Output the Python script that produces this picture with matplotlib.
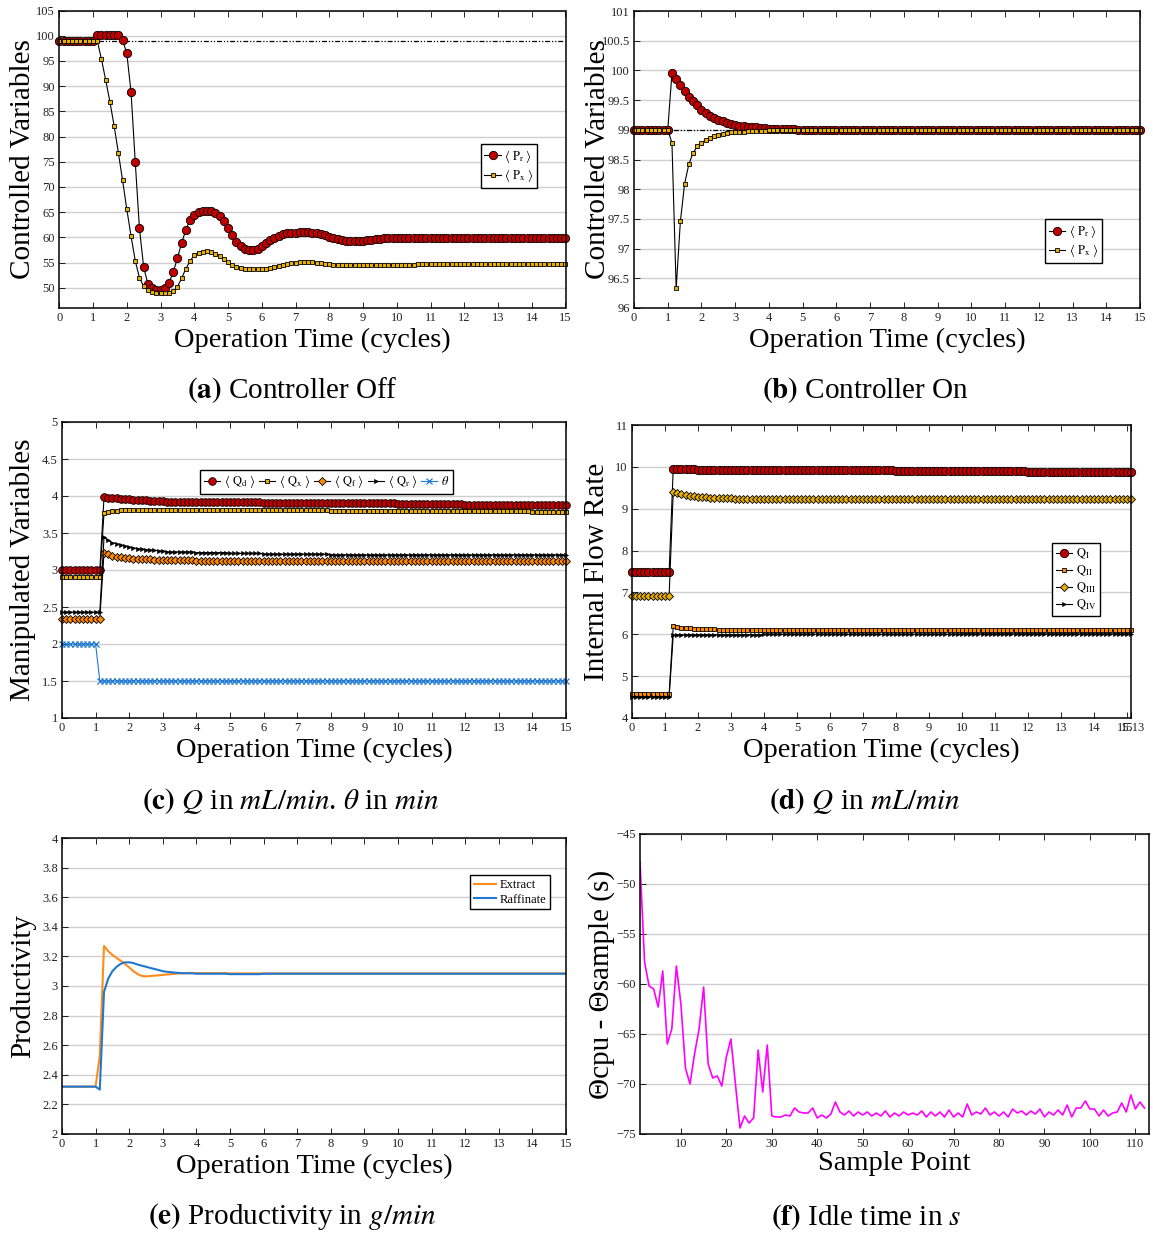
import numpy as np
import matplotlib
matplotlib.use("Agg")
import matplotlib.pyplot as plt

plt.rcParams['font.family'] = ['Liberation Serif', 'DejaVu Serif']
plt.rcParams['mathtext.fontset'] = 'stix'

# --- donnees -------------------------------------------------------------
# temps en cycles, 8 echantillons par cycle (0 .. 15.125)
t = np.arange(122) / 8

# (a) controleur eteint
pr_off = ([99.0] * 9 + [100.1] * 6 +
          [99.1, 96.5, 88.9, 75.0, 61.8, 54.1, 50.8, 49.9, 49.6, 49.5, 49.9, 51.0,
           53.1, 55.9, 58.9, 61.5, 63.5, 64.5, 65.0, 65.2, 65.2, 65.2, 64.8, 64.2,
           63.3, 61.8, 60.4, 59.1, 58.3, 57.7, 57.5, 57.5, 57.8, 58.3, 58.9, 59.4,
           59.9, 60.3, 60.6, 60.8, 60.9, 60.9, 61.0, 61.0, 61.0, 60.9, 60.8, 60.6,
           60.4, 60.1, 59.8, 59.6, 59.4, 59.3, 59.2, 59.2, 59.2, 59.3, 59.4, 59.5,
           59.6, 59.7, 59.8, 59.8, 59.9, 59.9] +
          [59.9] * 8 + [59.8] * 33)
px_off = ([99.0] * 10 +
          [95.3, 91.2, 86.9, 82.1, 76.8, 71.3, 65.6, 60.3, 55.4, 52.0, 50.3, 49.5,
           49.2, 49.0, 48.9, 48.9, 49.0, 49.3, 50.2, 51.9, 53.8, 55.3, 56.5, 57.0,
           57.2, 57.3, 57.1, 56.8, 56.3, 55.7, 55.1, 54.6, 54.2, 53.9, 53.8, 53.7,
           53.7, 53.7, 53.7, 53.8, 53.9, 54.1, 54.3, 54.5, 54.7, 54.9, 55.0, 55.1,
           55.1, 55.1, 55.1, 55.0, 54.9, 54.8, 54.7, 54.6] +
          [54.5] * 11 + [54.6] * 8 + [54.7] * 37)

# (b) controleur allume
pr_on = ([99.0] * 9 +
         [99.95, 99.86, 99.75, 99.65, 99.56, 99.48, 99.41, 99.34, 99.29, 99.24,
          99.20, 99.17, 99.14, 99.12, 99.10, 99.08, 99.07, 99.06, 99.05, 99.04,
          99.04, 99.03, 99.03, 99.02, 99.02, 99.02, 99.01, 99.01, 99.01, 99.01] +
         [99.0] * 83)
px_on = ([99.0] * 9 +
         [98.78, 96.33, 97.46, 98.09, 98.42, 98.61, 98.72, 98.78, 98.83, 98.87,
          98.89, 98.92, 98.93, 98.94, 98.955, 98.96, 98.965, 98.97, 98.975, 98.98,
          98.98, 98.985, 98.985, 98.99, 98.99, 98.99, 98.995, 98.995, 98.995, 98.995] +
         [99.0] * 83)
consigne = 99.0

# (c) variables manipulees
qd = ([3.0] * 10 +
      [3.98, 3.975, 3.97, 3.97, 3.965, 3.96, 3.955, 3.95, 3.945, 3.94, 3.94,
       3.935, 3.935, 3.93, 3.93] +
      [3.925] * 7 + [3.92] * 8 + [3.915] * 8 + [3.91] * 16 + [3.905] * 16 +
      [3.895] * 16 + [3.885] * 16 + [3.875] * 10)
qx = ([2.9] * 10 + [3.77, 3.785, 3.795, 3.80, 3.805, 3.808] +
      [3.812] * 24 + [3.808] * 24 + [3.803] * 24 + [3.797] * 24 + [3.79] * 10)
qf = ([2.34] * 10 +
      [3.23, 3.21, 3.19, 3.18, 3.17, 3.165, 3.16, 3.155, 3.15, 3.147, 3.145,
       3.142, 3.14, 3.138, 3.135] +
      [3.132] * 7 + [3.128] * 8 + [3.122] * 82)
qr = ([2.43] * 10 +
      [3.44, 3.40, 3.37, 3.355, 3.34, 3.325, 3.31, 3.30, 3.29, 3.283, 3.276,
       3.27, 3.265, 3.26, 3.255] +
      [3.245] * 7 + [3.235] * 8 + [3.225] * 8 + [3.215] * 16 + [3.205] * 58)
theta = [2.0] * 9 + [1.5] * 113

# (d) debits internes
q1 = ([7.48] * 10 + [9.96, 9.955, 9.95, 9.95, 9.945, 9.94] +
      [9.935] * 8 + [9.93] * 8 + [9.925] * 16 + [9.915] * 16 + [9.905] * 16 +
      [9.895] * 16 + [9.885] * 16 + [9.875] * 10)
q2 = ([4.57] * 10 +
      [6.19, 6.175, 6.16, 6.15, 6.14, 6.135, 6.13, 6.125, 6.12, 6.118, 6.115] +
      [6.11] * 11 + [6.10] * 8 + [6.095] * 82)
q3 = ([6.92] * 10 +
      [9.41, 9.38, 9.35, 9.33, 9.31, 9.30, 9.29, 9.28, 9.27, 9.265, 9.26,
       9.255, 9.25, 9.248, 9.245] +
      [9.24] * 15 + [9.232] * 82)
q4 = [4.50] * 10 + [5.98] + [5.99] * 21 + [6.00] * 48 + [6.01] * 42

# (e) productivite
extract = ([2.32] * 9 +
           [2.53, 3.27, 3.235, 3.21, 3.19, 3.17, 3.15, 3.125, 3.10, 3.08, 3.068,
            3.065, 3.067, 3.07, 3.072, 3.075, 3.078, 3.08, 3.083, 3.085] +
           [3.087] * 11 + [3.085] * 82)
raffinate = ([2.32] * 9 +
             [2.30, 2.96, 3.05, 3.10, 3.13, 3.15, 3.16, 3.16, 3.155, 3.145, 3.137,
              3.13, 3.122, 3.115, 3.108, 3.10, 3.096, 3.093, 3.09, 3.088] +
             [3.086] * 3 + [3.083] * 8 + [3.08] * 8 + [3.083] * 74)

# (f) temps d'inactivite
echantillons = np.arange(1, 113)
idle = [-47.8, -57.8, -60.2, -60.5, -62.3, -58.7, -66.0, -64.5, -58.2, -62.0,
        -68.4, -70.0, -67.0, -64.5, -60.3, -68.0, -69.4, -69.2, -70.2, -67.3,
        -65.5, -70.0, -74.4, -73.2, -73.9, -73.4, -66.6, -70.8, -66.1, -73.2,
        -73.3, -73.3, -73.1, -73.2, -72.4, -72.8, -72.9, -72.9, -72.4, -73.4,
        -73.1, -73.4, -73.0, -71.8, -72.8, -73.1, -72.7, -73.2, -72.8, -73.1,
        -72.8, -73.2, -72.9, -73.2, -72.7, -73.3, -72.9, -73.2, -72.8, -73.1,
        -72.9, -73.1, -72.7, -73.3, -72.8, -73.2, -72.8, -73.3, -72.6, -73.3,
        -72.9, -73.3, -72.0, -73.1, -72.8, -73.0, -72.4, -73.1, -72.8, -73.2,
        -72.8, -73.3, -72.5, -72.9, -72.7, -73.1, -72.7, -73.0, -72.5, -73.3,
        -72.8, -73.1, -72.6, -73.1, -72.1, -73.3, -72.4, -72.4, -71.7, -72.5,
        -72.5, -73.2, -72.6, -73.2, -72.9, -72.8, -71.9, -72.8, -71.1, -72.5,
        -71.8, -72.4]

# --- couleurs ---------------------------------------------------------------
ROUGE = '#c00000'
OR = '#e8b000'
ORANGE = '#ff8a00'
BLEU = '#1f78d1'

W, H = 1153, 1236
fig = plt.figure(figsize=(W / 100, H / 100), dpi=100)


def axe(x0, x1, y0, y1):
    # position en pixels -> fraction de figure
    return fig.add_axes([x0 / W, 1 - y1 / H, (x1 - x0) / W, (y1 - y0) / H])


def mise_en_forme(ax, ylabel, xlabel, ylab_x, xlab_y=-0.068):
    ax.grid(axis='y', color='#cfcfcf', lw=1.0)
    ax.set_axisbelow(True)
    ax.tick_params(direction='in', top=True, right=False, length=4, width=0.6,
                   labelsize=9, labelcolor='#222222', pad=3)
    for s in ax.spines.values():
        s.set_linewidth(1.1)
    ax.set_ylabel(ylabel, fontsize=21)
    ax.yaxis.set_label_coords(ylab_x, 0.5)
    ax.set_xlabel(xlabel, fontsize=20.5)
    ax.xaxis.set_label_coords(0.5, xlab_y)
    ax.xaxis.label.set_va('top')


def fmt(vals):
    return ['%g' % v for v in vals]


ligne = dict(color='black', lw=0.8, clip_on=False)
leg = dict(fontsize=9, fancybox=False, edgecolor='black', framealpha=1,
           handlelength=1.3, handletextpad=0.3, borderpad=0.3, labelspacing=0.2)

# (a)
ax = axe(59.3, 565.5, 10.5, 308)
ax.plot(t[:-1], [consigne] * 121, color='black', lw=0.9, dashes=(4, 1.5, 1, 1.5, 1, 1.5))
ax.plot(t[:-1], pr_off[:-1], marker='o', ms=6, mfc=ROUGE, mec='black', mew=0.6,
        label=r'$\langle\ \mathrm{P_r}\ \rangle$', **ligne)
ax.plot(t[:-1], px_off[:-1], marker='s', ms=3.5, mfc=OR, mec='black', mew=0.6,
        label=r'$\langle\ \mathrm{P_x}\ \rangle$', **ligne)
ax.set_xlim(0, 15)
ax.set_ylim(46, 105)
ax.set_xticks(range(16))
ax.set_yticks(range(50, 106, 5))
ax.legend(loc='upper left', bbox_to_anchor=(0.82, 0.573), **leg)
mise_en_forme(ax, 'Controlled Variables', 'Operation Time (cycles)', -0.046)

# (b)
ax = axe(634, 1140, 11, 308)
ax.plot(t[:-1], [consigne] * 121, color='black', lw=0.9, dashes=(4, 1.5, 1, 1.5, 1, 1.5))
ax.plot(t[:-1], pr_on[:-1], marker='o', ms=6, mfc=ROUGE, mec='black', mew=0.6,
        label=r'$\langle\ \mathrm{P_r}\ \rangle$', **ligne)
ax.plot(t[:-1], px_on[:-1], marker='s', ms=3.5, mfc=OR, mec='black', mew=0.6,
        label=r'$\langle\ \mathrm{P_x}\ \rangle$', **ligne)
ax.set_xlim(0, 15)
ax.set_ylim(96, 101)
ax.set_xticks(range(16))
yt = np.arange(96, 101.01, 0.5)
ax.set_yticks(yt)
ax.set_yticklabels(fmt(yt))
ax.legend(loc='upper left', bbox_to_anchor=(0.80, 0.32), **leg)
mise_en_forme(ax, 'Controlled Variables', 'Operation Time (cycles)', -0.045)

# (c)
ax = axe(62, 566, 422, 718)
ax.plot(t[:-1], qd[:-1], marker='o', ms=5.5, mfc=ROUGE, mec='black', mew=0.6,
        label=r'$\langle\ \mathrm{Q_d}\ \rangle$', **ligne)
ax.plot(t[:-1], qx[:-1], marker='s', ms=3.5, mfc=OR, mec='black', mew=0.6,
        label=r'$\langle\ \mathrm{Q_x}\ \rangle$', **ligne)
ax.plot(t[:-1], qf[:-1], marker='D', ms=4.5, mfc=ORANGE, mec='black', mew=0.6,
        label=r'$\langle\ \mathrm{Q_f}\ \rangle$', **ligne)
ax.plot(t[:-1], qr[:-1], marker='>', ms=3, mfc='black', mec='black', mew=0.4,
        label=r'$\langle\ \mathrm{Q_r}\ \rangle$', **ligne)
ax.plot(t[:-1], theta[:-1], marker='x', ms=4, color=BLEU, lw=0.8, mew=0.9,
        clip_on=False, label=r'$\theta$')
ax.set_xlim(0, 15)
ax.set_ylim(1, 5)
ax.set_xticks(range(16))
yt = np.arange(1, 5.01, 0.5)
ax.set_yticks(yt)
ax.set_yticklabels(fmt(yt))
ax.legend(loc='upper left', bbox_to_anchor=(0.262, 0.86), ncol=5,
          columnspacing=0.3, **leg)
mise_en_forme(ax, 'Manipulated Variables', 'Operation Time (cycles)', -0.052)

# (d)
ax = axe(632, 1131, 425, 718)
ax.plot(t, q1, marker='o', ms=6, mfc=ROUGE, mec='black', mew=0.6,
        label=r'$\mathrm{Q_{I}}$', **ligne)
ax.plot(t, q2, marker='s', ms=3.5, mfc=ORANGE, mec='black', mew=0.6,
        label=r'$\mathrm{Q_{II}}$', **ligne)
ax.plot(t, q3, marker='D', ms=4.5, mfc=OR, mec='black', mew=0.6,
        label=r'$\mathrm{Q_{III}}$', **ligne)
ax.plot(t, q4, marker='>', ms=3, mfc='black', mec='black', mew=0.4,
        label=r'$\mathrm{Q_{IV}}$', **ligne)
ax.set_xlim(0, t[-1])
ax.set_ylim(4, 11)
ax.set_xticks(list(range(16)) + [t[-1]])
ax.set_xticklabels([str(i) for i in range(16)] + ['15.13'])
ax.set_yticks(range(4, 12))
ax.legend(loc='upper left', bbox_to_anchor=(0.83, 0.62), **leg)
mise_en_forme(ax, 'Internal Flow Rate', 'Operation Time (cycles)', -0.044)

# (e)
ax = axe(62, 566, 838, 1134)
ax.plot(t[:-1], extract[:-1], color='#ff8c1a', lw=1.5, label='Extract')
ax.plot(t[:-1], raffinate[:-1], color='#1f77d0', lw=1.5, label='Raffinate')
ax.set_xlim(0, 15)
ax.set_ylim(2, 4)
ax.set_xticks(range(16))
yt = np.arange(2, 4.01, 0.2)
ax.set_yticks(yt)
ax.set_yticklabels(fmt(np.round(yt, 1)))
leg_e = dict(leg, handlelength=1.8)
ax.legend(loc='upper left', bbox_to_anchor=(0.797, 0.895), **leg_e)
mise_en_forme(ax, 'Productivity', 'Operation Time (cycles)', -0.052)

# (f)
ax = axe(640, 1149, 834, 1134)
ax.plot(echantillons, idle, color='#ff00ff', lw=1.2)
ax.set_xlim(1, 113)
ax.set_ylim(-75, -45)
ax.set_xticks(range(10, 111, 10))
ax.set_yticks(range(-75, -44, 5))
mise_en_forme(ax, 'Θcpu - Θsample (s)', 'Sample Point', -0.05, -0.058)

# legendes des sous-figures
fs = 21
fig.text(292 / W, 1 - 390 / H, r'$\mathbf{(a)}$ Controller Off', ha='center', va='center', fontsize=fs)
fig.text(866 / W, 1 - 390 / H, r'$\mathbf{(b)}$ Controller On', ha='center', va='center', fontsize=fs)
fig.text(291 / W, 1 - 801 / H, r'$\mathbf{(c)}$ $Q$ in $mL/min$. $\theta$ in $min$', ha='center', va='center', fontsize=fs)
fig.text(865 / W, 1 - 801 / H, r'$\mathbf{(d)}$ $Q$ in $mL/min$', ha='center', va='center', fontsize=fs)
fig.text(292 / W, 1 - 1217 / H, r'$\mathbf{(e)}$ Productivity in $g/min$', ha='center', va='center', fontsize=fs)
fig.text(866 / W, 1 - 1217 / H, r'$\mathbf{(f)}$ Idle time in $s$', ha='center', va='center', fontsize=fs)

fig.savefig('out.png', dpi=100)
